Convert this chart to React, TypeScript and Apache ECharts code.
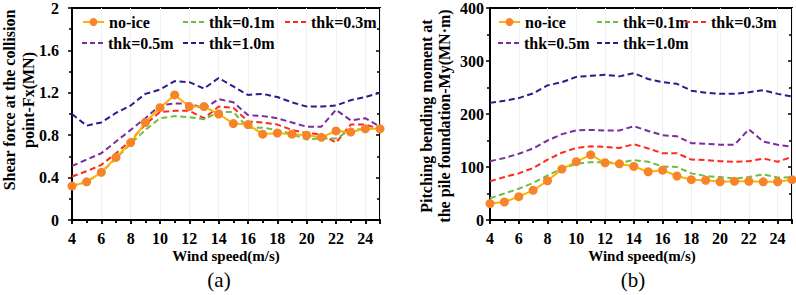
import React, { useEffect, useRef } from "react";
import * as echarts from "echarts";

const windSpeed = [4, 5, 6, 7, 8, 9, 10, 11, 12, 13, 14, 15, 16, 17, 18, 19, 20, 21, 22, 23, 24, 25];
const seriesNames = ["no-ice", "thk=0.1m", "thk=0.3m", "thk=0.5m", "thk=1.0m"];

// (a) Shear force Fx (MN)
const fxNoIce = [0.32, 0.36, 0.45, 0.59, 0.73, 0.92, 1.06, 1.18, 1.07, 1.07, 1.0, 0.91, 0.9, 0.81, 0.82, 0.81, 0.8, 0.78, 0.84, 0.83, 0.86, 0.86];
const fxThk01 = [0.32, 0.36, 0.45, 0.58, 0.72, 0.85, 0.96, 0.98, 0.97, 0.95, 1.02, 1.02, 0.87, 0.87, 0.85, 0.81, 0.76, 0.77, 0.77, 0.85, 0.86, 0.86];
const fxThk03 = [0.41, 0.46, 0.52, 0.63, 0.75, 0.9, 1.02, 1.03, 1.03, 0.96, 1.07, 1.06, 0.93, 0.92, 0.9, 0.85, 0.82, 0.81, 0.73, 0.9, 0.9, 0.86];
const fxThk05 = [0.51, 0.57, 0.63, 0.74, 0.85, 0.96, 1.08, 1.1, 1.1, 1.05, 1.14, 1.11, 0.99, 0.98, 0.96, 0.92, 0.88, 0.88, 1.04, 0.94, 0.96, 0.88];
const fxThk10 = [1.0, 0.89, 0.92, 1.01, 1.08, 1.19, 1.23, 1.31, 1.3, 1.24, 1.34, 1.26, 1.18, 1.19, 1.16, 1.11, 1.07, 1.07, 1.08, 1.13, 1.16, 1.2];

// (b) Pitching bending moment My (MN·m)
const myNoIce = [31, 34, 44, 56, 74, 96, 110, 123, 108, 106, 101, 91, 94, 83, 76, 75, 72, 73, 73, 72, 72, 76];
const myThk01 = [41, 50, 59, 70, 84, 97, 106, 109, 109, 108, 113, 110, 101, 100, 88, 83, 81, 78, 81, 86, 80, 81];
const myThk03 = [73, 81, 88, 98, 114, 127, 136, 139, 138, 136, 143, 135, 126, 126, 114, 113, 111, 110, 111, 116, 110, 119];
const myThk05 = [111, 117, 125, 135, 150, 162, 169, 170, 169, 169, 177, 168, 160, 158, 145, 144, 142, 142, 171, 148, 142, 138];
const myThk10 = [221, 225, 230, 239, 254, 260, 270, 272, 274, 271, 277, 266, 260, 257, 244, 240, 238, 238, 241, 245, 238, 233];

const colors = ["#FFB300", "#6DBE45", "#FF2A1A", "#7B2C9E", "#2B1B8C"];
const markerColor = "#F5842A";
const FONT = "Liberation Serif";
const DASH_ICON = "path://M0,0h5v2h-5z M8,0h5v2h-5z M16,0h5v2h-5z";

export default function App() {
  const ref = useRef<HTMLDivElement>(null);

  useEffect(() => {
    document.body.style.margin = "0";
    if (!ref.current) return;
    const chart = echarts.init(ref.current, undefined, { renderer: "svg" });

    const pair = (xs: number[], ys: number[]) => xs.map((x, i) => [x, ys[i]]);
    const dataA = [fxNoIce, fxThk01, fxThk03, fxThk05, fxThk10];
    const dataB = [myNoIce, myThk01, myThk03, myThk05, myThk10];

    const mkSeries = (idx: number) =>
      seriesNames.map((name, i) => ({
        name,
        type: "line",
        xAxisIndex: idx * 2,
        yAxisIndex: idx * 2,
        data: pair(windSpeed, (idx === 0 ? dataA : dataB)[i]),
        symbol: i === 0 ? "circle" : "none",
        symbolSize: 9,
        showSymbol: i === 0,
        z: 10 - i,
        lineStyle: {
          color: colors[i],
          width: 2,
          type: i === 0 ? "solid" : [6, 3.5],
        },
        itemStyle: { color: i === 0 ? markerColor : colors[i], borderWidth: 0 },
        emphasis: { disabled: true },
      }));

    const labelStyle = { fontFamily: FONT, fontWeight: "bold" as const, fontSize: 16, color: "#000" };

    const mkXAxis = (grid: number, inside: boolean) => ({
      type: "value",
      gridIndex: grid,
      min: 4,
      max: 25,
      interval: 2,
      axisLine: { show: !inside, lineStyle: { color: "#000", width: 2 } },
      axisTick: { show: true, inside, length: 4, lineStyle: { color: "#000", width: 1.5 } },
      minorTick: { show: true, splitNumber: 2, length: 3, lineStyle: { color: "#000", width: 1.5 } },
      axisLabel: {
        show: !inside,
        ...labelStyle,
        margin: 10,
        showMaxLabel: false,
        formatter: (v: number) => (v === 25 ? "" : String(v)),
      },
      splitLine: { show: !inside, lineStyle: { color: "#f1f1f1", width: 1 } },
    });

    const mkYAxis = (grid: number, inside: boolean, max: number, interval: number, margin: number) => ({
      type: "value",
      gridIndex: grid,
      min: 0,
      max,
      interval,
      axisLine: { show: !inside, lineStyle: { color: "#000", width: 2 } },
      axisTick: { show: true, inside, length: 4, lineStyle: { color: "#000", width: 1.5 } },
      minorTick: { show: true, splitNumber: 2, length: 3, lineStyle: { color: "#000", width: 1.5 } },
      axisLabel: { show: !inside, ...labelStyle, margin },
      splitLine: { show: false },
    });

    const legendPos = [
      [82, 183, 285, 82, 183],
      [498, 597, 685, 498, 597],
    ];
    const legends: any[] = [];
    for (let g = 0; g < 2; g++) {
      seriesNames.forEach((name, i) => {
        const dashed = i > 0;
        legends.push({
          data: dashed ? [{ name, icon: DASH_ICON }] : [name],
          left: legendPos[g][i],
          top: i < 3 ? 14 : 35,
          itemWidth: 21,
          itemHeight: dashed ? 2 : 10,
          itemGap: 0,
          padding: 0,
          selectedMode: false,
          textStyle: { ...labelStyle, fontSize: 16 },
        });
      });
    }

    const title = (x: number, y: number, text: string, rotate = true, bold = true, size = 15) => ({
      type: "text",
      x,
      y,
      rotation: rotate ? Math.PI / 2 : 0,
      style: {
        text,
        fontFamily: FONT,
        fontWeight: bold ? "bold" : "normal",
        fontSize: size,
        fill: "#000",
        textAlign: "center",
        textVerticalAlign: "middle",
      },
    });

    chart.setOption({
      animation: false,
      backgroundColor: "#fff",
      grid: [
        { left: 72, right: 416, top: 5, bottom: 75, show: true, borderColor: "#000", borderWidth: 2, backgroundColor: "transparent" },
        { left: 490, right: 4, top: 7, bottom: 75, show: true, borderColor: "#000", borderWidth: 2, backgroundColor: "transparent" },
      ],
      xAxis: [mkXAxis(0, false), mkXAxis(0, true), mkXAxis(1, false), mkXAxis(1, true)],
      yAxis: [
        mkYAxis(0, false, 2, 0.4, 13),
        mkYAxis(0, true, 2, 0.4, 13),
        mkYAxis(1, false, 400, 100, 6),
        mkYAxis(1, true, 400, 100, 6),
      ],
      legend: legends,
      series: [...mkSeries(0), ...mkSeries(1)],
      graphic: [
        title(9, 100, "Shear force at the collision", true, true, 16),
        title(28, 100, "point-Fx(MN)", true, true, 16),
        title(426, 116, "Pitching bending moment at", true, true, 16),
        title(444, 116, "the pile foundation-My(MN·m)", true, true, 16),
        title(226, 256, "Wind speed(m/s)", false),
        title(642, 256, "Wind speed(m/s)", false),
        title(219, 280, "(a)", false, false, 21),
        title(633, 280, "(b)", false, false, 21),
      ],
    });

    return () => chart.dispose();
  }, []);

  return <div ref={ref} style={{ width: 796, height: 295 }} />;
}
